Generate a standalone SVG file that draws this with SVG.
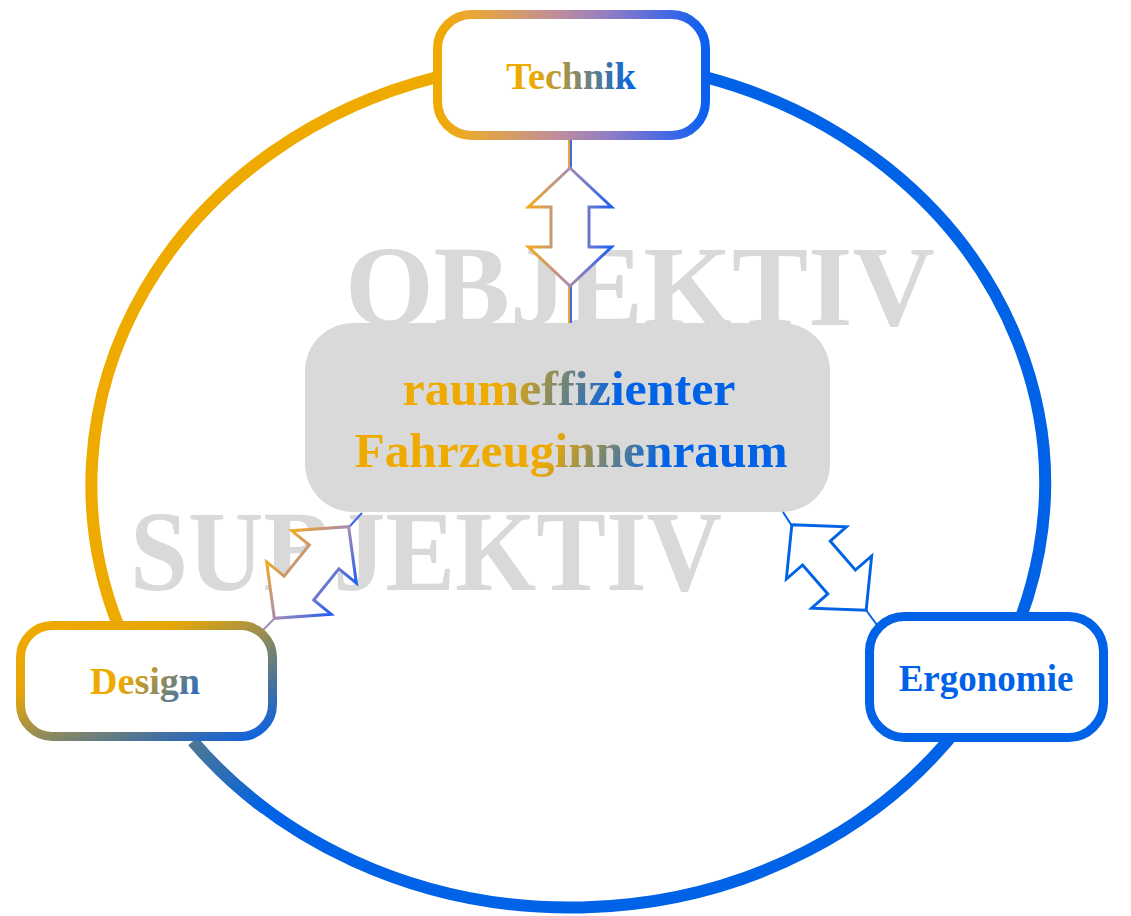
<svg xmlns="http://www.w3.org/2000/svg" width="1131" height="916" viewBox="0 0 1131 916">
  <defs>
    <linearGradient id="gTechBox" x1="0" y1="0" x2="1" y2="0">
      <stop offset="0" stop-color="#EFAA00"/>
      <stop offset="0.12" stop-color="#EBA833"/>
      <stop offset="0.45" stop-color="#BE8E9C"/>
      <stop offset="0.65" stop-color="#8E7CC6"/>
      <stop offset="0.88" stop-color="#3E66E8"/>
      <stop offset="1" stop-color="#0A60EE"/>
    </linearGradient>
    <linearGradient id="gDesignBox" x1="0" y1="0" x2="1" y2="1">
      <stop offset="0" stop-color="#EFAA00"/>
      <stop offset="0.3" stop-color="#E6A60A"/>
      <stop offset="0.55" stop-color="#8C8A5C"/>
      <stop offset="0.8" stop-color="#3C6EA8"/>
      <stop offset="1" stop-color="#0A62E6"/>
    </linearGradient>
    <linearGradient id="gArrow" x1="0" y1="0" x2="1" y2="0">
      <stop offset="0" stop-color="#F2A81E"/>
      <stop offset="0.5" stop-color="#A88CB4"/>
      <stop offset="1" stop-color="#1F5FF0"/>
    </linearGradient>
    <linearGradient id="gArc" gradientUnits="userSpaceOnUse" x1="193" y1="741" x2="265" y2="809">
      <stop offset="0" stop-color="#4F7890"/>
      <stop offset="1" stop-color="#0062E6"/>
    </linearGradient>
    <linearGradient id="gTechTxt" gradientUnits="userSpaceOnUse" x1="515" y1="0" x2="635" y2="0">
      <stop offset="0" stop-color="#EFAA00"/>
      <stop offset="0.15" stop-color="#EFAA00"/>
      <stop offset="1" stop-color="#0062E6"/>
    </linearGradient>
    <linearGradient id="gDesTxt" gradientUnits="userSpaceOnUse" x1="135" y1="662" x2="200" y2="705">
      <stop offset="0" stop-color="#EFAA00"/>
      <stop offset="1" stop-color="#1464D8"/>
    </linearGradient>
    <linearGradient id="gL1" gradientUnits="userSpaceOnUse" x1="505" y1="380" x2="612" y2="412">
      <stop offset="0" stop-color="#EFAA00"/>
      <stop offset="1" stop-color="#0062E6"/>
    </linearGradient>
    <linearGradient id="gL2" gradientUnits="userSpaceOnUse" x1="555" y1="435" x2="650" y2="482">
      <stop offset="0" stop-color="#EFAA00"/>
      <stop offset="1" stop-color="#0062E6"/>
    </linearGradient>
    <path id="dblArrow" d="M0,-59 L41.5,-20 L19,-20 L19,20 L41.5,20 L0,59 L-41.5,20 L-19,20 L-19,-20 L-41.5,-20 Z"/>
  </defs>
  <style>
    .ring { fill: none; stroke-width: 12; }
    .box { fill: #FFFFFF; stroke-width: 9; }
    .lbl { font-family: "Liberation Serif", "Times New Roman", serif; font-weight: bold; text-anchor: middle; }
    .wm { font-family: "Liberation Serif", "Times New Roman", serif; font-weight: bold; fill: #D9D9D9; font-size: 114px; }
    .arrow { fill: #FFFFFF; stroke-width: 3; stroke-linejoin: miter; }
    .conn { stroke-width: 2; fill: none; }
  </style>

  <g id="ring">
    <path class="ring" stroke="#EFAA00" d="M437.5,77 A475,424 0 0 0 118,625"/>
    <path class="ring" stroke="#0062E6" d="M705,77 A475,424 0 1 1 193,741.4"/>
    <path class="ring" stroke="url(#gArc)" d="M193,741.4 A475,424 0 0 0 265,808.7"/>
  </g>

  <g id="watermarks">
    <text class="wm" x="345" y="325" textLength="590" lengthAdjust="spacingAndGlyphs">OBJEKTIV</text>
    <text class="wm" x="130" y="590" textLength="592" lengthAdjust="spacingAndGlyphs">SUBJEKTIV</text>
  </g>

  <g id="center">
    <rect x="305" y="323" width="525" height="189" rx="48" fill="#D9D9D9"/>
    <text class="lbl" x="569" y="405" font-size="49" fill="url(#gL1)" textLength="333" lengthAdjust="spacingAndGlyphs">raumeffizienter</text>
    <text class="lbl" x="571" y="467" font-size="49" fill="url(#gL2)" textLength="433" lengthAdjust="spacingAndGlyphs">Fahrzeuginnenraum</text>
  </g>

  <g id="connectors">
    <line class="conn" x1="569" y1="140" x2="569" y2="168" stroke="#E9A53A" stroke-width="1.6"/>
    <line class="conn" x1="571" y1="140" x2="571" y2="168" stroke="#3F68E6" stroke-width="1.6"/>
    <line class="conn" x1="569" y1="286" x2="569" y2="323" stroke="#E9A53A" stroke-width="1.6"/>
    <line class="conn" x1="571" y1="286" x2="571" y2="323" stroke="#3F68E6" stroke-width="1.6"/>
    <use href="#dblArrow" class="arrow" stroke="url(#gArrow)" transform="translate(570,227)"/>

    <line class="conn" x1="362" y1="513" x2="349" y2="527" stroke="#3A66EA" stroke-width="3"/>
    <line class="conn" x1="274" y1="619" x2="262" y2="631" stroke="#A88CB4" stroke-width="3"/>
    <use href="#dblArrow" class="arrow" stroke="url(#gArrow)" transform="translate(311.5,572.5) rotate(39)"/>

    <line class="conn" x1="783" y1="512" x2="792" y2="526" stroke="#0062E6" stroke-width="3"/>
    <line class="conn" x1="866" y1="610" x2="877" y2="625" stroke="#0062E6" stroke-width="3"/>
    <use href="#dblArrow" class="arrow" stroke="#0062E6" transform="translate(829,567.5) rotate(-41) scale(0.96)"/>
  </g>

  <g id="technik">
    <rect class="box" x="437.5" y="14.5" width="268" height="121" rx="34" stroke="url(#gTechBox)"/>
    <text class="lbl" x="571" y="89" font-size="38" fill="url(#gTechTxt)">Technik</text>
  </g>

  <g id="design">
    <rect class="box" x="20.5" y="625.5" width="252" height="111" rx="32" stroke="url(#gDesignBox)"/>
    <text class="lbl" x="145" y="694" font-size="38" fill="url(#gDesTxt)">Design</text>
  </g>

  <g id="ergonomie">
    <rect class="box" x="869.5" y="616.5" width="234" height="121" rx="35" stroke="#0062E6"/>
    <text class="lbl" x="986" y="691" font-size="37" fill="#0062E6">Ergonomie</text>
  </g>
</svg>
